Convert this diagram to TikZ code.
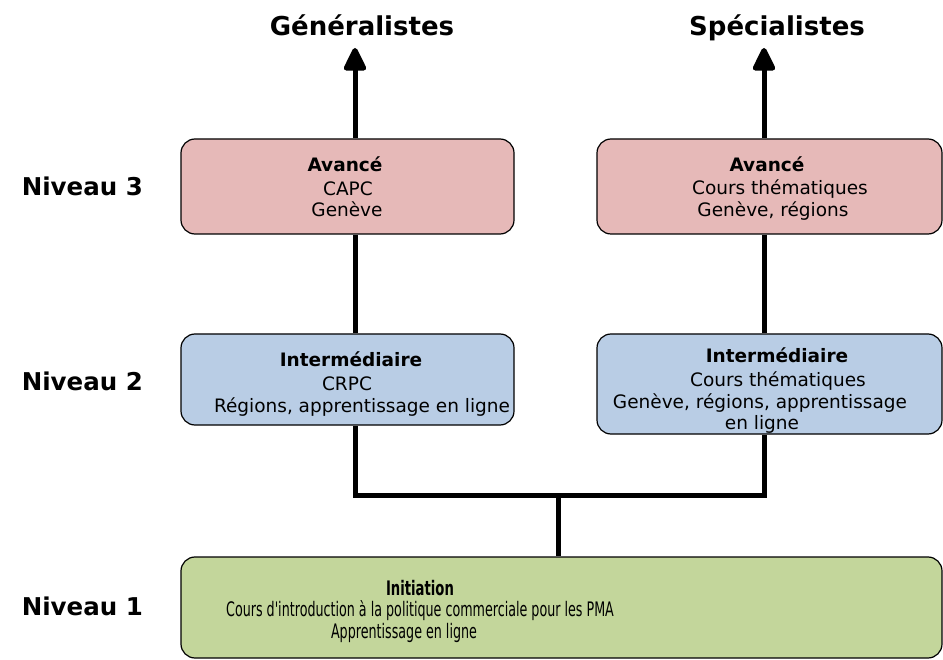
\documentclass[tikz,border=0pt]{standalone}
\usepackage{fontspec}
\setmainfont{DejaVu Sans}
\newfontfamily\narrowfont[FakeStretch=0.635]{DejaVu Sans}
\newfontfamily\narrowboldfont[FakeStretch=0.66,UprightFont={* Bold}]{DejaVu Sans}
\usetikzlibrary{arrows.meta}
\definecolor{pinkbox}{RGB}{230,185,184}
\definecolor{bluebox}{RGB}{185,205,229}
\definecolor{greenbox}{RGB}{195,214,155}
\begin{document}
\begin{tikzpicture}[x=1pt,y=-1pt,
  levelbox/.style={draw=black,line width=1.2pt,rounded corners=14pt,
    rectangle,inner sep=0pt,minimum width=#1},
  txt/.style={anchor=base,inner sep=0pt,font=\fontsize{18.5}{22}\selectfont},
  txtb/.style={txt,font=\fontsize{18.5}{22}\selectfont\bfseries},
  ntxt/.style={anchor=base,inner sep=0pt,font=\fontsize{20}{22}\narrowfont},
  ntxtb/.style={anchor=base,inner sep=0pt,font=\fontsize{20}{22}\narrowboldfont},
  heading/.style={anchor=base,inner sep=0pt,font=\fontsize{26}{30}\selectfont\bfseries},
  level/.style={anchor=base east,inner sep=0pt,font=\fontsize{24.5}{28}\selectfont\bfseries},
  thick link/.style={line width=5pt,draw=black},
]
\useasboundingbox (0,0) rectangle (943,660);

% level boxes
\node[levelbox=333pt,minimum height=95pt,fill=pinkbox] (b3l) at (347.5,186.5) {};
\node[levelbox=345pt,minimum height=95pt,fill=pinkbox] (b3r) at (769.5,186.5) {};
\node[levelbox=333pt,minimum height=91pt,fill=bluebox] (b2l) at (347.5,379.5) {};
\node[levelbox=345pt,minimum height=100pt,fill=bluebox] (b2r) at (769.5,384) {};
\node[levelbox=761pt,minimum height=101pt,fill=greenbox] (b1) at (561.5,607.5) {};

% box texts
\node[txtb] (t3la) at (345,172) {Avancé};
\node[txt]  (t3lb) at (348,196) {CAPC};
\node[txt]  (t3lc) at (347,217) {Genève};

\node[txtb] (t3ra) at (767,172) {Avancé};
\node[txt]  (t3rb) at (780,195) {Cours thématiques};
\node[txt]  (t3rc) at (773,217) {Genève, régions};

\node[txtb] (t2la) at (351,367) {Intermédiaire};
\node[txt]  (t2lb) at (347,391) {CRPC};
\node[txt]  (t2lc) at (362,413) {Régions, apprentissage en ligne};

\node[txtb] (t2ra) at (777,363) {Intermédiaire};
\node[txt]  (t2rb) at (778,387) {Cours thématiques};
\node[txt]  (t2rc) at (760,409) {Genève, régions, apprentissage};
\node[txt]  (t2rd) at (762,429) {en ligne};

\node[ntxtb] (t1a) at (420,595) {Initiation};
\node[ntxt]  (t1b) at (420,616) {Cours d'introduction à la politique commerciale pour les PMA};
\node[ntxt]  (t1c) at (404,638) {Apprentissage en ligne};

% headings and level labels
\node[heading] (gen) at (362,36) {Généralistes};
\node[heading] (spe) at (777,36) {Spécialistes};
\node[level] (n3) at (143,196) {Niveau 3};
\node[level] (n2) at (143,391) {Niveau 2};
\node[level] (n1) at (143,615) {Niveau 1};

% connectors
\coordinate (gtip) at (355,48);
\coordinate (stip) at (764,48);
\coordinate (jn) at (558,495);

\draw[thick link,-{Triangle[length=26pt,width=24pt,round]}] (b3l.north -| gtip) -- (gtip);
\draw[thick link,-{Triangle[length=26pt,width=24pt,round]}] (b3r.north -| stip) -- (stip);
\draw[thick link] (b3l.south -| gtip) -- (b2l.north -| gtip);
\draw[thick link] (b3r.south -| stip) -- (b2r.north -| stip);
\draw[thick link,line join=miter] (b2l.south -| gtip) |- (jn) -| (b2r.south -| stip);
\draw[thick link] (jn) -- (b1.north -| jn);
\end{tikzpicture}
\end{document}
